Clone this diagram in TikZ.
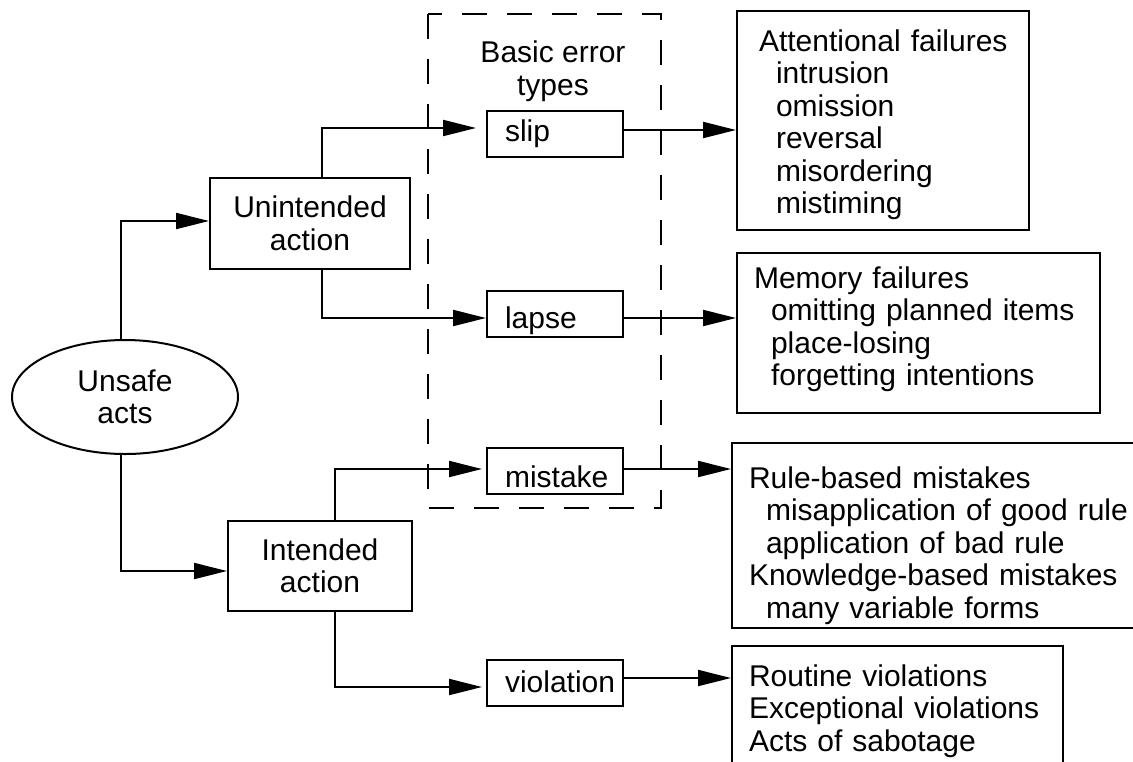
\documentclass[tikz,border=0pt]{standalone}
\usepackage{fontspec}
\setmainfont{Liberation Sans}
\usetikzlibrary{shapes.geometric,arrows.meta}

\begin{document}
\begin{tikzpicture}[x=0.5pt,y=-0.5pt,line width=1pt,
  font=\fontsize{15pt}{16.25pt}\selectfont,
  flow/.style={-{Triangle[length=16.5pt,width=8pt]}},
  action/.style={draw,align=center,inner sep=0pt},
  errtype/.style={draw,text width=50pt,inner xsep=9pt,inner ysep=0pt,
    minimum height=23pt,align=left,text depth=3pt,
    execute at begin node={\hyphenpenalty=10000}},
  failbox/.style={draw,anchor=north west,align=left,inner ysep=0pt,inner xsep=8.5pt,
    execute at begin node={\hyphenpenalty=10000}}]
\useasboundingbox (0,0) rectangle (1133,761);
\clip (0,0) rectangle (1133,761);

% acts and actions
\node[action,ellipse,minimum width=113pt,minimum height=57pt] (acts) at (125,397) {Unsafe\\acts};
\node[action,minimum width=100pt,minimum height=45.5pt] (unint) at (310,223.5) {Unintended\\action};
\node[action,minimum width=92pt,minimum height=45pt] (int) at (320,566) {Intended\\action};

% basic error types
\draw[dash pattern=on 12.5pt off 10pt] (428,14) rectangle (661,508);
\node[align=center] (types) at (553,71) {Basic error\\types};
\node[errtype,text height=10.7pt] (slip) at (555,134) {slip};
\node[errtype,text height=17.5pt] (lapse) at (555,313.5) {lapse};
\node[errtype,text height=19.7pt] (mistake) at (555,471) {mistake};
\node[errtype,text height=13.2pt] (violation) at (555,682.5) {violation};

% failure boxes
\node[failbox,text width=124pt,inner xsep=11pt] (attn) at (736,10) {\rule{0pt}{20pt}Attentional~failures\\
  \hspace*{8.5pt}intrusion\\
  \hspace*{8.5pt}omission\\
  \hspace*{8.5pt}reversal\\
  \hspace*{8.5pt}misordering\\
  \hspace*{8.5pt}mistiming\rule[-8pt]{0pt}{0pt}};
\node[failbox,text width=164.5pt] (memory) at (736,252) {\rule{0pt}{17.5pt}Memory failures\\
  \hspace*{8.5pt}omitting planned items\\
  \hspace*{8.5pt}place-losing\\
  \hspace*{8.5pt}forgetting intentions\rule[-13.5pt]{0pt}{0pt}};
\node[failbox,text width=194pt] (rules) at (731,442) {\rule{0pt}{22.5pt}Rule-based mistakes\\
  \hspace*{8.5pt}misapplication of good rule\\
  \hspace*{8.5pt}application of bad rule\\
  Knowledge-based mistakes\\
  \hspace*{8.5pt}many variable forms\rule[-5pt]{0pt}{0pt}};
\node[failbox,text width=148.5pt] (routine) at (731,645) {\rule{0pt}{20pt}Routine violations\\
  Exceptional violations\\
  Acts of sabotage\rule[-15pt]{0pt}{0pt}};

% connectors
\draw[flow] ([xshift=-2pt]acts.north) |- ([yshift=1.25pt]unint.west);
\draw[flow] ([xshift=-2pt]acts.south) |- ([yshift=-2.5pt]int.west);
\draw[flow] ([xshift=6pt]unint.north) |- ([xshift=-5pt,yshift=3pt]slip.west);
\draw[flow] ([xshift=6pt]unint.south) |- ([yshift=-2.25pt]lapse.west);
\draw[flow] ([xshift=7.5pt]int.north) |- ([xshift=-2pt,yshift=1pt]mistake.west);
\draw[flow] ([xshift=7.5pt]int.south) |- ([xshift=-2pt,yshift=-2.25pt]violation.west);
\draw[flow] ([yshift=2pt]slip.east) coordinate (s1) -- (s1 -| attn.west);
\draw[flow] ([yshift=-2.25pt]lapse.east) coordinate (s2) -- (s2 -| memory.west);
\draw[flow] ([yshift=1pt]mistake.east) coordinate (s3) -- (s3 -| rules.west);
\draw[flow] ([yshift=2.25pt]violation.east) coordinate (s4) -- (s4 -| routine.west);
\end{tikzpicture}
\end{document}
